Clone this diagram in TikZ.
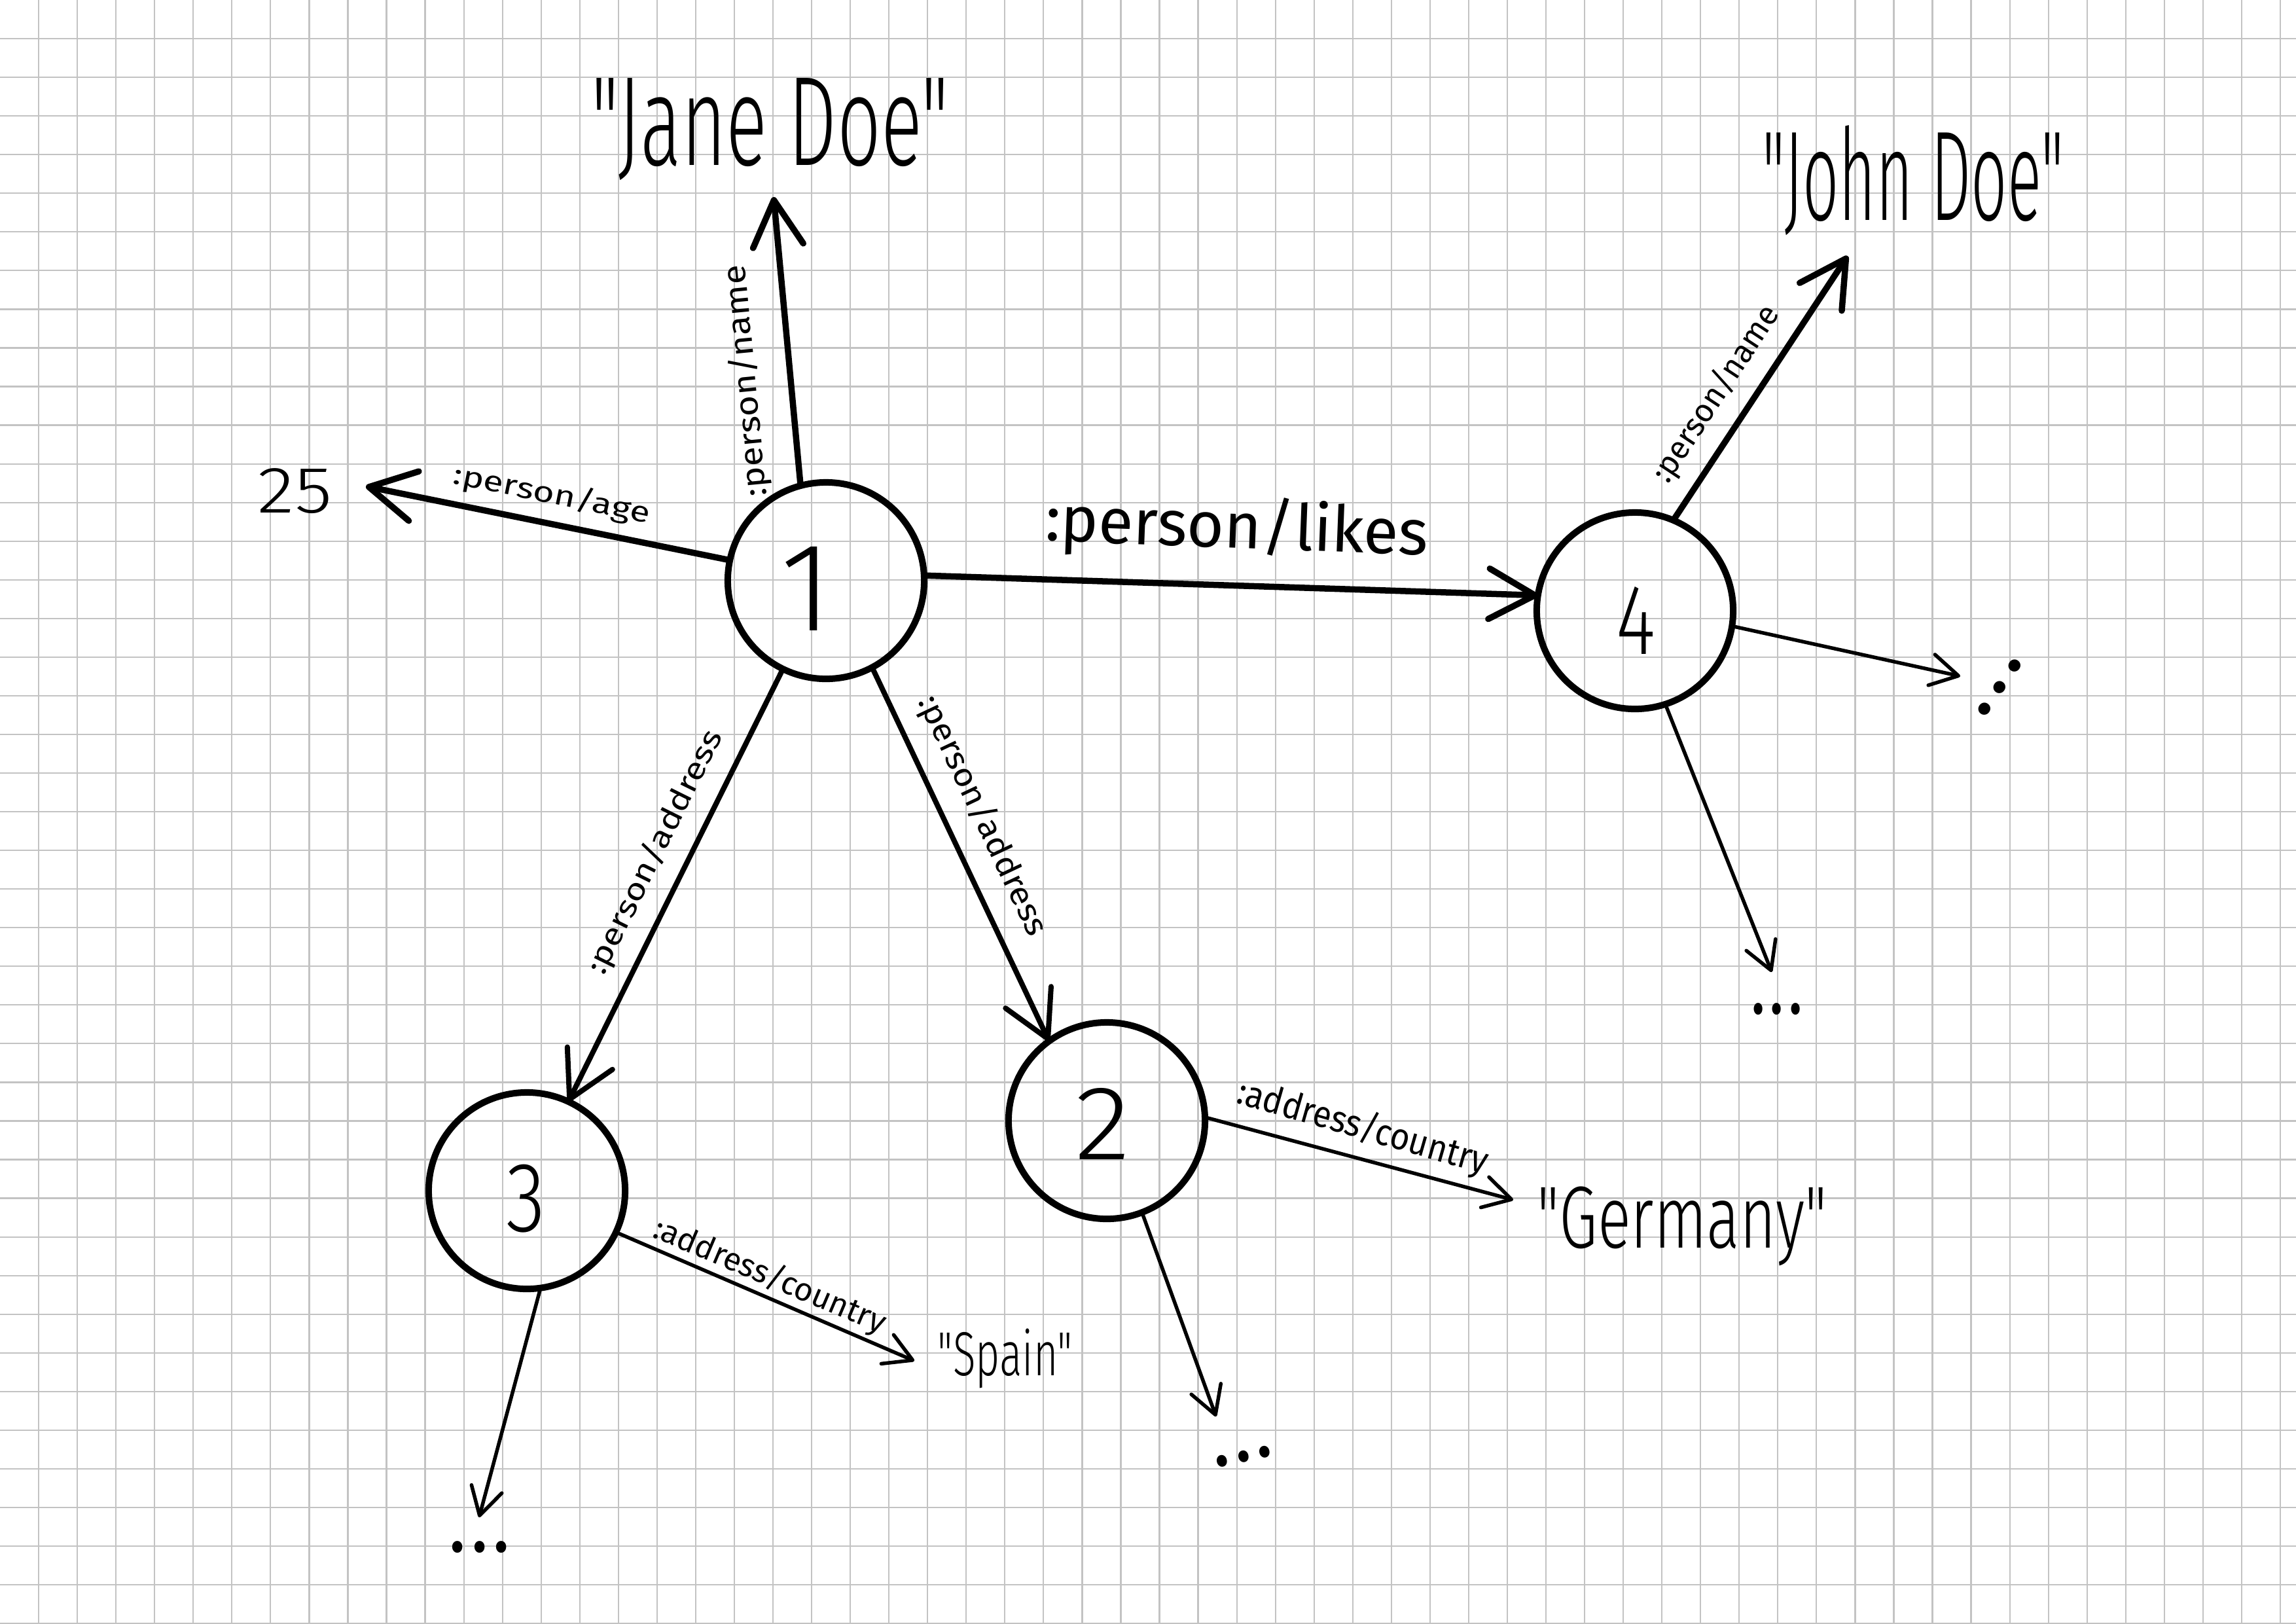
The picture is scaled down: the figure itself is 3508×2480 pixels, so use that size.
\documentclass[tikz,border=0pt]{standalone}
\usepackage{fontspec}
\usepackage{graphicx}
\setmainfont{Liberation Sans}[Ligatures=TeXOff]
\IfFontExistsTF{Fira Sans Light}{%
  \newfontfamily\hwl{Fira Sans Light}[Ligatures=TeXOff]%
}{%
  \newfontfamily\hwl{Liberation Sans}[Ligatures=TeXOff]%
}
\IfFontExistsTF{Fira Sans}{%
  \newfontfamily\hwr{Fira Sans}[Ligatures=TeXOff]%
}{%
  \newfontfamily\hwr{Liberation Sans}[Ligatures=TeXOff]%
}
\usetikzlibrary{arrows.meta}
\definecolor{gridgray}{RGB}{195,195,195}
\tikzset{
  gridline/.style={draw=gridgray, line width=0.022cm},
  vertex/.style={circle, draw=black, line width=0.1cm, minimum size=3cm, inner sep=0pt, outer sep=0pt},
  mainedge/.style={line width=0.095cm, line cap=round, line join=round,
    -{Straight Barb[length=0.7cm,width=0.77cm,round]}},
  midedge/.style={line width=0.08cm, line cap=round, line join=round,
    -{Straight Barb[length=0.7cm,width=0.77cm,round]}},
  thinedge/.style={line width=0.055cm, line cap=round, line join=round,
    -{Straight Barb[length=0.42cm,width=0.48cm,round]}},
  lbl/.style={inner sep=0pt, outer sep=0pt},
}
\newcommand{\fitto}[3]{\resizebox*{#1}{#2}{#3}}
\begin{document}
\begin{tikzpicture}[x=0.01cm, y=-0.01cm]
\fill[white] (0,0) rectangle (3508,2480);
\useasboundingbox (0,0) rectangle (3508,2480);
% grid paper
\foreach \i in {1,...,59} \draw[gridline] (\i*59.05,0) -- (\i*59.05,2480);
\foreach \j in {1,...,42} \draw[gridline] (0,\j*59.05) -- (3508,\j*59.05);

% vertices
\node[vertex] (n1) at (1262,887) {};
\node[vertex] (n2) at (1691,1712) {};
\node[vertex] (n3) at (805,1819) {};
\node[vertex] (n4) at (2498,933) {};

% vertex numbers
\node[lbl] (d1) at (1232,899) {\fitto{!}{1.28cm}{\hwl 1}};
\node[lbl] (d2) at (1685,1717) {\fitto{0.85cm}{1.09cm}{\hwl 2}};
\node[lbl] (d3) at (804,1831) {\fitto{0.6cm}{1.04cm}{\hwl 3}};
\node[lbl] (d4) at (2499,948) {\fitto{0.6cm}{1.03cm}{\hwl 4}};

% values
\node[lbl] (jane) at (1177,198) {\fitto{5.46cm}{1.56cm}{\hwl "Jane Doe"}};
\node[lbl] (john) at (2923,276) {\fitto{4.6cm}{1.68cm}{\hwl "John Doe"}};
\node[lbl] (age) at (451,750) {\fitto{1.14cm}{0.69cm}{\hwl 25}};
\node[lbl] (germany) at (2570,1873) {\fitto{4.43cm}{1.21cm}{\hwl "Germany"}};
\node[lbl] (spain) at (1536,2075) {\fitto{2.06cm}{0.91cm}{\hwl "Spain"}};

% ellipses
\node[lbl, rotate=55] (e4r) at (3055,1050) {\fitto{1.2cm}{0.18cm}{\hwl ...}};
\node[lbl] (e4b) at (2715,1542) {\fitto{0.85cm}{0.18cm}{\hwl ...}};
\node[lbl, rotate=12] (e2b) at (1900,2225) {\fitto{1.0cm}{0.18cm}{\hwl ...}};
\node[lbl] (e3b) at (733,2364) {\fitto{1.0cm}{0.18cm}{\hwl ...}};

% arrow end points
\coordinate (tJane) at (1182,301);
\coordinate (tAge) at (559,743);
\coordinate (tJohn) at (2823,391);
\coordinate (t4r) at (2995,1033);
\coordinate (t4b) at (2707,1485);
\coordinate (tGer) at (2312,1833);
\coordinate (t2b) at (1858,2164);
\coordinate (tSpain) at (1397,2079);
\coordinate (t3b) at (732,2318);

% edges
\draw[mainedge] (n1.105) -- (tJane);
\draw[mainedge] (n1.168) -- (tAge);
\draw[mainedge] (n1.3) -- (n4.171);
\draw[mainedge] (n4.67) -- (tJohn);
\draw[midedge] (n1.244) -- (n3.65);
\draw[midedge] (n1.298) -- (n2.126);
\draw[thinedge] (n4.351) -- (t4r);
\draw[thinedge] (n4.288) -- (t4b);
\draw[thinedge] (n2.2) -- (tGer);
\draw[thinedge] (n2.291) -- (t2b);
\draw[thinedge] (n3.335) -- (tSpain);
\draw[thinedge] (n3.278) -- (t3b);

% edge labels
\node[lbl, rotate=-11.5] (lage) at (843,756) {\fitto{3.05cm}{0.45cm}{\hwr :person/age}};
\node[lbl, rotate=95.4] (lname1) at (1140,582) {\fitto{3.55cm}{0.5cm}{\hwr :person/name}};
\node[lbl, rotate=-2.2] (llikes) at (1890,808) {\fitto{5.85cm}{1.0cm}{\hwr :person/likes}};
\node[lbl, rotate=56.5] (lname4) at (2622,602) {\fitto{3.12cm}{0.5cm}{\hwr :person/name}};
\node[lbl, rotate=63.6] (laddr3) at (1001,1302) {\fitto{4.1cm}{0.47cm}{\hwr :person/address}};
\node[lbl, rotate=-64.7] (laddr2) at (1501,1246) {\fitto{4.0cm}{0.5cm}{\hwr :person/address}};
\node[lbl, rotate=-16] (lc2) at (2082,1723) {\fitto{3.95cm}{0.58cm}{\hwr :address/country}};
\node[lbl, rotate=-23] (lc3) at (1176,1950) {\fitto{3.8cm}{0.5cm}{\hwr :address/country}};
\end{tikzpicture}
\end{document}
